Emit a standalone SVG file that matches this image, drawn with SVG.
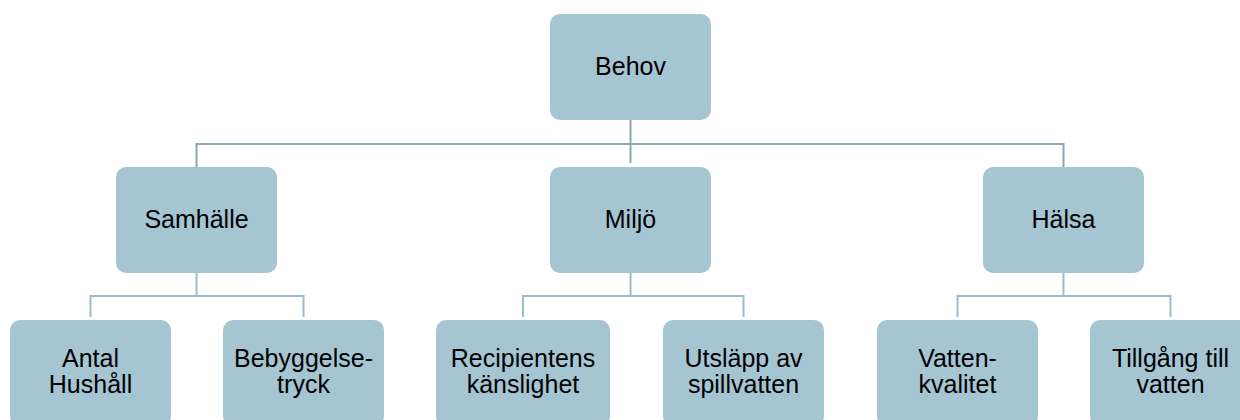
<svg xmlns="http://www.w3.org/2000/svg" width="1240" height="420" viewBox="0 0 1240 420">
<style>
.box{fill:#a6c5d2;}
.t{font-family:"Liberation Sans",Arial,sans-serif;font-size:25px;fill:#000;text-anchor:middle;}
.c1{fill:none;stroke:#8ca7b4;stroke-width:2;}
.c2{fill:none;stroke:#9dbccb;stroke-width:2;}
</style>
<rect width="1240" height="420" fill="#fff"/>
<g id="connectors">
<path class="c1" d="M630.5 120 V163 M196.5 167 V144 H1063.5 V167"/>
<path class="c2" d="M196.5 273 V296 M90.5 317 V296 H303.5 V317"/>
<path class="c2" d="M630.5 273 V296 M523 317 V296 H743.5 V317"/>
<path class="c2" d="M1063.5 273 V296 M957.5 317 V296 H1170.5 V317"/>
</g>
<g id="behov"><rect class="box" x="550" y="14" width="161" height="106" rx="10"/><text class="t" x="630.5" y="75">Behov</text></g>
<g id="samhalle"><rect class="box" x="116" y="167" width="161" height="106" rx="10"/><text class="t" x="196.5" y="228">Samhälle</text></g>
<g id="miljo"><rect class="box" x="550" y="167" width="161" height="106" rx="10"/><text class="t" x="630.5" y="228">Miljö</text></g>
<g id="halsa"><rect class="box" x="983" y="167" width="161" height="106" rx="10"/><text class="t" x="1063.5" y="228">Hälsa</text></g>
<g id="antal"><rect class="box" x="10" y="320" width="161" height="106" rx="10"/><text class="t" x="90.5" y="367">Antal</text><text class="t" x="90.5" y="393">Hushåll</text></g>
<g id="bebyggelse"><rect class="box" x="223" y="320" width="161" height="106" rx="10"/><text class="t" x="303.5" y="367">Bebyggelse-</text><text class="t" x="303.5" y="393">tryck</text></g>
<g id="recipientens"><rect class="box" x="436" y="320" width="174" height="106" rx="10"/><text class="t" x="523" y="367">Recipientens</text><text class="t" x="523" y="393">känslighet</text></g>
<g id="utslapp"><rect class="box" x="663" y="320" width="161" height="106" rx="10"/><text class="t" x="743.5" y="367">Utsläpp av</text><text class="t" x="743.5" y="393">spillvatten</text></g>
<g id="vattenkvalitet"><rect class="box" x="877" y="320" width="161" height="106" rx="10"/><text class="t" x="957.5" y="367">Vatten-</text><text class="t" x="957.5" y="393">kvalitet</text></g>
<g id="tillgang"><rect class="box" x="1090" y="320" width="161" height="106" rx="10"/><text class="t" x="1170.5" y="367">Tillgång till</text><text class="t" x="1170.5" y="393">vatten</text></g>
</svg>
